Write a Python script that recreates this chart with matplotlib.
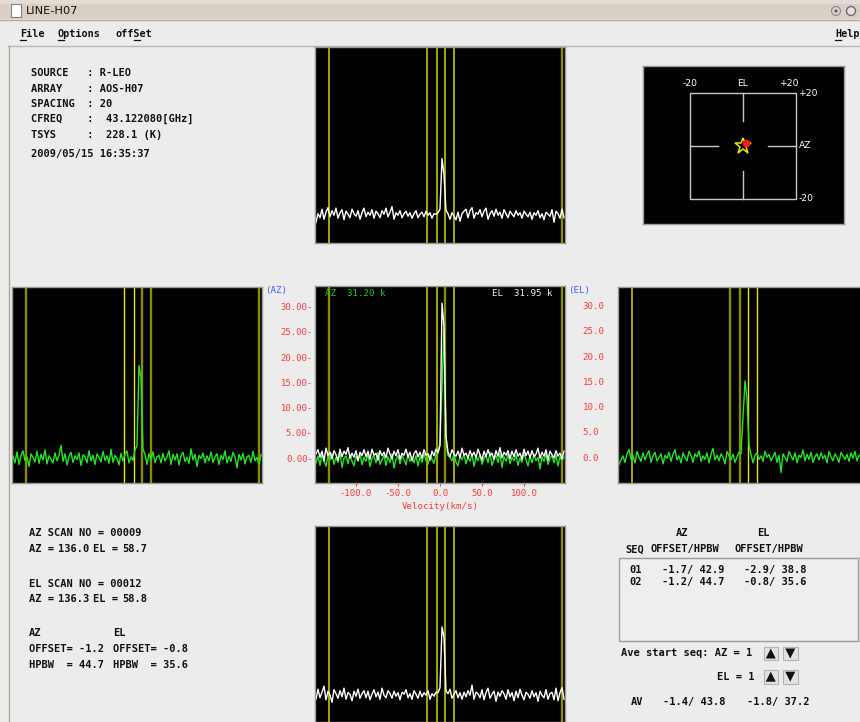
import numpy as np
import matplotlib
matplotlib.use("Agg")
import matplotlib.pyplot as plt
from matplotlib.patches import Rectangle, Polygon, Circle

plt.rcParams['font.family'] = ['DejaVu Sans Mono', 'DejaVu Sans']

# ---------------- data ----------------
VMIN, VMAX = -148.0, 148.0
PEAK_CH = [61, 62, 63, 64, 65, 66]
LINE_VEL = [-132.0, -15.0, -3.0, 6.0, 16.5, 144.0]

left_az_noise = [
    0.5, -0.9, 1.3, -1.2, 0.6, 1.5, -0.4, 0.3, -1.6, 0.9, 0.2, -0.7, 1.4, -1.0, 0.8, -0.3, 1.7, -1.1, 0.5, -0.2, -0.9, 1.1, -0.5, 0.6, 2.6,
    -0.6, 0.9, -1.3, 0.4, 1.2, -0.8, 0.5, -0.2, 1.1, -1.4, 0.7, 0.3, -0.9, 1.5, -0.5, 0.6, -1.2, 0.9, 0.2, -0.7, 1.4, -0.4, 0.5, -1.0, 1.8,
    -0.8, 0.6, 0.0, -1.3, 1.0, -0.5, 0.8, 1.5, -0.9, 0.3, -0.4, 1.2, -1.0, 0.5, 1.6, -0.6, 0.2, -1.2, 0.9, -0.2, 1.3, -0.8, 0.3, 0.6, -0.9,
    1.0, -0.5, 0.3, 1.5, -1.2, 0.8, -0.3, 0.9, -1.3, 0.5, 1.2, -0.6, 0.2, -1.0, 1.9, -0.3, 0.8, -1.6, 0.6, 0.0, 1.1, -0.9, 0.5, -0.5, 1.3,
    -0.8, 0.3, 0.9, -1.2, 0.6, -0.2, 1.5, -0.9, 0.4, -0.6, 1.2, 0.2, -1.9, 0.8, -0.3, 1.0, -1.1, 0.3, 0.6, -0.8, 1.4, -0.5, 0.2, -1.2, 0.8]
left_az_peak = [0.5, 3.5, 18.0, 14.3, 2.4, 0.6]

center_az_noise = [
    -0.9, 0.4, -1.4, 0.8, -0.5, -1.6, 0.6, -0.3, 0.9, -1.2, 0.2, -0.8, 1.1, -1.8, 0.0, 0.5, -1.1, 0.8, -0.6, -1.5, 0.4, -0.5, 0.9, -1.3, 0.2,
    -0.6, 0.8, -1.6, 0.0, 0.5, -0.9, 1.2, -1.2, -0.3, 0.6, -1.4, 0.3, -0.8, 0.9, -1.9, -0.2, 0.5, -1.1, 0.6, -0.3, -1.3, 0.8, -0.6, 0.2, -0.9,
    0.5, -1.5, 0.3, -0.8, 0.9, -0.5, -1.2, 0.6, -0.2, -1.0, 0.8, -0.6, 0.3, 0.0, -0.9, 0.6, -1.4, 0.2, -0.5, 1.0, -0.8, -1.5, 0.5, -0.3, 0.8,
    -1.1, 0.3, -0.6, 0.9, -1.6, 0.2, -0.5, 0.8, -1.2, 0.0, 0.6, -0.9, 1.2, -1.4, -0.3, 0.5, -0.8, 0.9, -1.8, 0.3, -0.6, 0.8, -1.1, 0.2, -0.5,
    0.6, -1.4, 0.0, -0.8, 1.1, -0.3, -1.5, 0.5, -0.9, 0.8, -0.5, 0.2, -2.1, 0.3, -0.6, 0.9, -1.2, 0.0, 0.5, -0.9, 0.6, -1.5, 0.3, -0.5, 0.2]
center_az_peak = [1.5, 2.7, 14.0, 26.5, 2.4, 1.9]

center_el_noise = [
    0.9, 1.7, 0.2, 1.4, -0.5, 2.0, 0.5, 1.2, -0.1, 1.5, 0.7, -0.4, 1.8, 0.3, 1.4, 0.8, 2.1, 0.0, 1.0, 0.2, 1.5, -0.5, 1.2, 0.5, 1.7,
    0.3, 1.4, -0.2, 1.8, 0.6, 1.0, -0.4, 1.5, 0.5, 1.2, 0.1, 2.0, 0.8, -0.1, 1.4, 0.5, 1.7, -0.2, 1.0, 0.6, 1.8, 0.2, 1.2, -0.5, 0.9,
    1.5, 0.3, 1.2, 0.0, 1.7, 0.6, 0.9, -0.4, 1.4, 0.5, 1.8, 0.2, 1.0, 0.6, 1.5, -0.1, 1.2, 0.3, 1.7, 0.8, 0.4, 1.4, 0.1, 2.0, 0.6,
    1.0, 0.0, 1.5, 0.4, 1.2, 0.1, 1.8, 0.7, -0.4, 1.4, 0.3, 1.7, 0.5, 1.0, -0.2, 1.5, 0.4, 2.1, 0.1, 1.2, 0.6, 1.5, -0.1, 1.4, 0.3,
    1.7, 0.4, 1.0, -0.2, 1.8, 0.5, 1.4, 0.1, 1.5, 0.3, 0.8, 2.0, 0.0, 1.2, 0.4, 1.7, -0.4, 1.4, 0.7, 0.1, 1.5, 0.4, 1.0, -0.1, 1.4]
center_el_peak = [1.0, 1.5, 30.1, 24.5, 4.5, 0.0]

right_el_noise = [
    -1.2, -0.3, 0.5, -0.8, 0.9, 1.8, -0.2, 0.6, -0.9, 1.4, 0.3, -0.6, 1.1, -0.3, 0.8, 1.5, -0.8, 0.5, 1.2, -0.5, 0.2, 0.9, -1.1, 0.6, 0.0,
    1.2, -0.6, 0.8, 1.7, -0.3, 0.5, -0.9, 1.1, 0.2, -0.5, 1.4, 0.6, -0.8, 0.9, 0.3, 1.5, -0.6, 0.5, -0.2, 1.1, -0.9, 0.8, 2.0, -0.3, 0.6,
    -0.5, 0.9, 0.2, -1.1, 1.4, 0.5, -0.3, 0.8, -0.8, 0.3, 1.2, -0.6, 0.0, 0.9, -0.5, 1.5, 0.3, -0.9, 0.6, 1.1, -0.2, 0.5, -0.6, 1.4, 0.2,
    0.8, -0.5, 0.3, 1.2, -0.8, 0.6, -2.8, 0.9, 0.2, -0.6, 1.4, 0.5, -0.3, 1.1, -0.9, 0.6, 0.2, 1.7, -0.5, 0.8, -0.2, 1.2, -0.8, 0.3, 0.9,
    -0.3, 1.1, 0.0, 0.6, -0.9, 1.4, 0.3, -0.5, 0.9, 0.2, -0.8, 1.2, 0.5, -0.2, 0.8, -0.6, 1.1, 0.0, 1.4, -0.5, 0.6, 0.3, -0.9, 0.9, 0.5]
right_el_peak = [1.6, 8.2, 14.5, 12.5, 1.1, 0.5]

top_el_noise = [
    -1.4, 0.3, -0.5, 1.2, -0.8, 0.6, 1.5, -0.3, 0.9, 0.0, 1.4, -0.6, 0.5, 1.1, -0.9, 0.8, 0.2, -0.5, 1.2, 0.3, -0.2, 0.9, -0.8, 0.5, 1.4,
    -0.3, 0.6, 0.0, 1.1, -0.6, 0.8, 0.3, -0.5, 0.9, 0.2, 1.4, -0.3, 0.6, 1.7, -0.8, 0.5, 0.0, 0.9, -0.5, 0.3, 0.8, -0.2, 0.5, -0.6, 0.3,
    0.9, -0.5, 0.2, 0.6, -0.3, 0.8, 0.0, 0.5, -0.6, 0.3, 0.2, -0.3, 0.6, 0.0, -0.5, 0.3, 0.2, -0.8, 0.5, -0.2, -0.9, 0.6, -1.2, 0.3, 0.8,
    1.2, -0.5, 0.9, 1.5, -0.6, 0.5, 0.2, 1.1, -0.3, 0.8, 1.4, -0.8, 0.3, 0.9, -0.2, 1.2, 0.0, 0.6, -0.6, 1.1, 0.3, -0.5, 0.8, 0.2, -0.3,
    0.9, 0.0, 0.5, -0.6, 0.8, 0.2, -0.3, 0.6, -0.8, 0.5, 0.0, 0.9, -0.5, 0.3, -0.9, 0.6, 0.2, -0.2, 1.1, -1.4, 0.8, 0.3, -0.6, 1.2, -0.5]
top_el_peak = [0.8, 0.6, 11.2, 8.5, 0.7, 0.1]

bottom_el_noise = [
    -0.8, 1.2, -0.5, 0.6, 1.8, -0.9, 0.8, 0.0, -1.4, 1.1, 0.3, -0.6, 0.9, -0.3, 1.4, -0.8, 0.5, 0.2, -1.1, 0.8, -0.2, 1.2, -0.6, 0.3, 0.9,
    -0.5, 0.8, -0.9, 0.2, 1.1, -0.3, 0.6, -0.8, 1.4, 0.0, -0.5, 0.9, 0.3, -0.6, 0.8, -0.2, 0.5, -0.9, 0.6, 0.2, 1.1, -0.5, 0.3, -0.8, 0.9,
    0.2, -0.6, 0.8, -0.3, 0.5, 0.0, 0.9, -0.8, 0.3, -0.2, 0.6, -0.5, 1.1, -0.9, 0.3, 0.8, -0.3, 1.2, -0.6, 0.2, 0.9, -0.5, 0.5, -0.8, 0.6,
    -0.3, 0.9, 0.0, 2.0, -0.8, 0.6, 0.3, -0.5, 1.1, -0.9, 0.5, 1.4, -0.6, 0.2, 0.8, -1.2, 0.6, -0.2, 0.9, 0.3, -0.8, 1.1, -0.3, 0.5, -1.1,
    0.8, -0.5, 1.2, 0.0, -0.9, 0.6, 0.2, -0.6, 0.9, -0.3, 0.5, -1.2, 0.8, 0.0, -0.5, 1.1, -0.8, 0.3, 0.6, -0.9, 1.4, -1.1, 0.5, 1.5, -0.8]
bottom_el_peak = [1.0, 0.4, 14.4, 11.2, 0.0, 0.6]

Y_TICKS = [0, 5, 10, 15, 20, 25, 30]
X_TICKS = [-100, -50, 0, 50, 100]
AZ_PEAK_LABEL = "31.20"
EL_PEAK_LABEL = "31.95"

info_labels = ["SOURCE", "ARRAY", "SPACING", "CFREQ", "TSYS"]
info_values = ["R-LEO", "AOS-H07", "20", " 43.122080[GHz]", " 228.1 (K)"]
timestamp = "2009/05/15 16:35:37"

seq_ids = ["01", "02"]
seq_az = ["-1.7/ 42.9", "-1.2/ 44.7"]
seq_el = ["-2.9/ 38.8", "-0.8/ 35.6"]
av_az, av_el = "-1.4/ 43.8", "-1.8/ 37.2"

target_star = (0.0, 0.0)
target_dot = (1.1, 0.9)

# ---------------- figure ----------------
W, H = 860, 722
fig = plt.figure(figsize=(8.6, 7.22), dpi=100)
BG = '#ececec'
fig.patch.set_facecolor(BG)


def px_axes(x0, y0, x1, y1, z=2):
    return fig.add_axes([x0 / W, 1 - y1 / H, (x1 - x0) / W, (y1 - y0) / H], zorder=z)


bg = px_axes(0, 0, W, H, z=0)
bg.set_xlim(0, W); bg.set_ylim(H, 0); bg.axis('off')
ov = px_axes(0, 0, W, H, z=10)
ov.set_xlim(0, W); ov.set_ylim(H, 0); ov.axis('off')

# title bar
bg.add_patch(Rectangle((0, 0), W, 19, color='#d9cfc4', lw=0))
bg.add_patch(Rectangle((0, 0), W, 4, color='#e4dcd3', lw=0))
bg.plot([0, W], [19.5, 19.5], color='#b0a898', lw=1)
bg.add_patch(Rectangle((11, 4), 10, 13, facecolor='white', edgecolor='#808080', lw=0.8))
bg.add_patch(Circle((836, 11), 4.5, facecolor='#d9d2ca', edgecolor='#8a8a8a', lw=0.8))
bg.add_patch(Circle((851, 11), 4.5, facecolor='#e6e0da', edgecolor='#6a6a6a', lw=1.0))
bg.add_patch(Circle((836, 11), 0.8, color='#555555'))
ov.text(26, 10.5, "LINE-H07", family='DejaVu Sans', fontsize=8.2, va='center', ha='left', color='#101010')

# menu bar
MENU_FS = 7.3
for x, s, ul in [(20, "File", 0), (58, "Options", 0), (116, "offSet", 3), (835, "Help", 0)]:
    ov.text(x, 34, s, fontsize=MENU_FS, fontweight='bold', va='center', ha='left', color='#101010')
    cw = 6.1
    ov.plot([x + ul * cw, x + (ul + 1) * cw - 0.5], [40.3, 40.3], color='#101010', lw=0.9)
bg.plot([8, W], [45.5, 45.5], color='#b8b8b8', lw=1)
bg.plot([8.5, 8.5], [46, H], color='#b5a58f', lw=1)

TXT = dict(fontsize=7.5, fontweight='bold', va='center', ha='left', color='#111111')

# info block
for i, (lab, val) in enumerate(zip(info_labels, info_values)):
    ov.text(30.7, [72.7, 89.3, 104.3, 119.3, 134.7][i], f"{lab:<9}: {val}", **TXT)
ov.text(30.7, 154.3, timestamp, **TXT)

# spectra
RED = '#ff3a3a'
BRIGHT, MID, OLIVE = '#e8e800', '#b4b400', '#8c8c00'
LW = {BRIGHT: 1.0, MID: 1.3, OLIVE: 1.7}
GREEN, WHITE = '#22e622', '#ffffff'


def spectrum(noise, peak):
    y = np.array(noise, dtype=float)
    y[PEAK_CH] += np.array(peak)
    v = VMIN + (np.arange(len(y)) + 0.5) * (VMAX - VMIN) / len(y)
    return v, y


def panel(x0, y0, x1, y1, ylim, series, line_colors):
    ax = px_axes(x0, y0, x1, y1, z=2)
    ax.set_facecolor('black')
    ax.set_xlim(VMIN, VMAX)
    ax.set_ylim(*ylim)
    for v, c in zip(LINE_VEL, line_colors):
        ax.axvline(v, color=c, lw=LW[c], zorder=1)
    for (noise, peak), c in series:
        v, y = spectrum(noise, peak)
        ax.plot(v, y, color=c, lw=1.0, zorder=2)
    ax.set_xticks([]); ax.set_yticks([])
    for s in ax.spines.values():
        s.set_color('#9a9a9a'); s.set_linewidth(1)
    return ax


MID_YLIM = (-4.9, 34.1)
panel(315, 47, 565, 243, (-5.5, 33.3), [((top_el_noise, top_el_peak), WHITE)],
      [MID, MID, MID, MID, MID, OLIVE])
panel(12, 287, 262, 483, MID_YLIM, [((left_az_noise, left_az_peak), GREEN)],
      [OLIVE, BRIGHT, BRIGHT, OLIVE, OLIVE, OLIVE])
cax = panel(315, 286, 565, 483, MID_YLIM,
            [((center_az_noise, center_az_peak), GREEN), ((center_el_noise, center_el_peak), WHITE)],
            [OLIVE, MID, MID, OLIVE, MID, OLIVE])
panel(618, 287, 868, 483, MID_YLIM, [((right_el_noise, right_el_peak), GREEN)],
      [MID, OLIVE, OLIVE, BRIGHT, BRIGHT, OLIVE])
panel(315, 526, 565, 722, (-5.3, 33.5), [((bottom_el_noise, bottom_el_peak), WHITE)],
      [MID, MID, MID, MID, MID, OLIVE])

# center axes ticks / labels
cax.set_xticks(X_TICKS)
cax.set_xticklabels([f"{t:.1f}" for t in X_TICKS])
cax.tick_params(axis='x', colors=RED, labelsize=6.4, length=2, width=0.8, pad=2)
cax.set_yticks(Y_TICKS)
cax.set_yticklabels([f"{t:.2f}-" for t in Y_TICKS])
cax.tick_params(axis='y', colors=RED, labelsize=6.4, length=0, pad=1.6)
cax.set_xlabel("Velocity(km/s)", color=RED, fontsize=6.6, labelpad=3.5)
for t in Y_TICKS:
    cax.text(1.0708, t, f"{t:.1f}", transform=cax.get_yaxis_transform(), color=RED,
             fontsize=6.6, va='center', ha='left', clip_on=False)
ov.text(265, 291, "(AZ)", color='#3f5cff', fontsize=6.6, va='center', ha='left')
ov.text(568.3, 291, "(EL)", color='#3f5cff', fontsize=6.6, va='center', ha='left')
ov.text(325, 293.3, f"AZ  {AZ_PEAK_LABEL} k", color='#22c822', fontsize=6.6, va='center', ha='left')
ov.text(491.7, 293.3, f"EL  {EL_PEAK_LABEL} k", color='#f0f0f0', fontsize=6.6, va='center', ha='left')

# target panel
tax = px_axes(643, 66, 844, 224, z=2)
tax.set_facecolor('black')
tax.set_xlim(-37.95, 38.33); tax.set_ylim(-29.4, 30.0)
tax.set_xticks([]); tax.set_yticks([])
for s in tax.spines.values():
    s.set_color('#9a9a9a'); s.set_linewidth(1)
SQC = '#c8c8c8'
tax.add_patch(Rectangle((-20, -20), 40, 40, fill=False, ec=SQC, lw=1))
tax.plot([-20, -9.4], [0, 0], color=SQC, lw=1)
tax.plot([9.6, 20], [0, 0], color=SQC, lw=1)
tax.plot([0, 0], [20, 9.4], color=SQC, lw=1)
tax.plot([0, 0], [-9.4, -20], color=SQC, lw=1)
tax.plot(*target_star, marker='*', ms=12, mfc='none', mec='#e8e800', mew=1.1)
tax.plot(*target_dot, marker='o', ms=4.5, color='#ff1a1a', mec='#ff1a1a')
TL = dict(color='white', fontsize=6.6, family='DejaVu Sans', va='center')
tax.text(-20, 23.3, "-20", ha='center', **TL)
tax.text(0, 23.3, "EL", ha='center', **TL)
tax.text(17.6, 23.3, "+20", ha='center', **TL)
tax.text(21.2, 19.8, "+20", ha='left', **TL)
tax.text(21.2, 0, "AZ", ha='left', **TL)
tax.text(21.2, -20, "-20", ha='left', **TL)

# bottom-left text
ov.text(29.3, 533, "AZ SCAN NO = 00009", **TXT)
for y, az, el in [(549, "136.0", "58.7"), (599, "136.3", "58.8")]:
    ov.text(29.3, y, "AZ =", **TXT)
    ov.text(58, y, az, **TXT)
    ov.text(93, y, "EL =", **TXT)
    ov.text(122, y, el, **TXT)
ov.text(29.3, 584, "EL SCAN NO = 00012", **TXT)
ov.text(29.3, 633, "AZ", **TXT)
ov.text(113, 633, "EL", **TXT)
ov.text(29.3, 649, "OFFSET= -1.2", **TXT)
ov.text(113, 649, "OFFSET= -0.8", **TXT)
ov.text(29.3, 665, "HPBW  = 44.7", **TXT)
ov.text(113, 665, "HPBW  = 35.6", **TXT)

# right-bottom table
ov.text(681.7, 533, "AZ", **{**TXT, 'ha': 'center'})
ov.text(763, 533, "EL", **{**TXT, 'ha': 'center'})
ov.text(625, 549.3, "SEQ", **TXT)
ov.text(650.7, 549.3, "OFFSET/HPBW", **TXT)
ov.text(734.3, 549.3, "OFFSET/HPBW", **TXT)
bg.add_patch(Rectangle((618.5, 557.5), 239, 83, facecolor='#eeeeee', edgecolor='#9c9c9c', lw=1))
bg.plot([858.5, 858.5], [557, 641], color='#c8c8c8', lw=1)
for i, (sid, a, e) in enumerate(zip(seq_ids, seq_az, seq_el)):
    y = 570 + i * 11.7
    ov.text(629.3, y, sid, **TXT)
    ov.text(661.7, y, a, **TXT)
    ov.text(744.3, y, e, **TXT)

ov.text(620.7, 653.3, "Ave start seq: AZ = 1", **TXT)
ov.text(717.3, 676.7, "EL = 1", **TXT)
for yc in (653.5, 676.7):
    for x0, up in ((763.5, True), (783, False)):
        bg.add_patch(Rectangle((x0, yc - 6.8), 14.5, 13.6, facecolor='#e2e2e2', edgecolor='#b4b4b4', lw=0.8))
        cx = x0 + 7.25
        if up:
            tri = [(cx - 5, yc + 5), (cx + 5, yc + 5), (cx, yc - 5)]
        else:
            tri = [(cx - 5, yc - 5), (cx + 5, yc - 5), (cx, yc + 5)]
        ov.add_patch(Polygon(tri, closed=True, color='#111111', lw=0))

ov.text(630.7, 701.7, "AV", **TXT)
ov.text(663.3, 701.7, av_az, **TXT)
ov.text(746.7, 701.7, av_el, **TXT)

fig.savefig("out.png", dpi=100, facecolor=fig.get_facecolor())
